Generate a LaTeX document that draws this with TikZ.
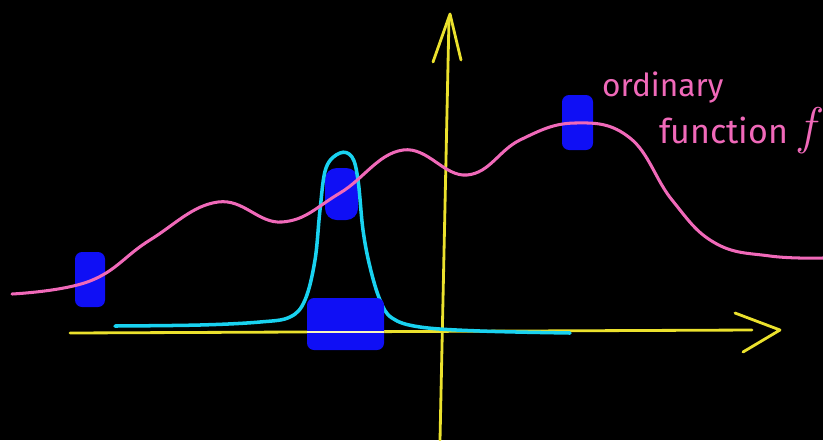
\documentclass[tikz,border=0pt]{standalone}
\usepackage{fontspec}
\newfontfamily\handfont{Fira Sans}
\usetikzlibrary{arrows.meta}
\definecolor{axisyellow}{RGB}{235,225,45}
\definecolor{fpink}{RGB}{240,105,185}
\definecolor{bumpcyan}{RGB}{25,210,240}
\definecolor{patchblue}{RGB}{15,15,245}
\tikzset{
  axisline/.style={draw=axisyellow, line width=2.4pt, line cap=round, line join=round},
  fcurve/.style={draw=fpink, line width=2.6pt, line cap=round},
  bumpcurve/.style={draw=bumpcyan, line width=3pt, line cap=round},
  patch/.style={fill=patchblue, rounded corners=6},
  labeltext/.style={text=fpink, font=\handfont\fontsize{27}{27}\selectfont, inner sep=0pt}
}
\begin{document}
\begin{tikzpicture}[x=0.03cm, y=-0.03cm]

      % Fundo
      \fill[black] (0,0) rectangle (823,440);
      \useasboundingbox (0,0) rectangle (823,440);

      % Eixos
      \draw[axisline] (70,333) -- (752,330);
      \draw[axisline] (735,313) -- (780,330) -- (743,352);
      \draw[axisline] (440,440) -- (449,18);
      \draw[axisline] (433,62) -- (450,14) -- (461,60);

      % Manchas azuis (atras das curvas)
      \fill[patch] (75,252) rectangle (105,307);
      \fill[patch] (562,95) rectangle (593,150);
      \fill[patch, rounded corners=10] (325,168) rectangle (358,220);

      % Pico estreito
      \draw[bumpcurve] plot[smooth, tension=0.6] coordinates {
        (115,326) (200,325) (260,322) (290,317) (305,300) (315,260)
        (320,210) (326,168) (340,153) (352,157) (358,180) (363,230)
        (370,267) (380,300) (392,318) (420,327) (480,331) (570,333)};

      % Mancha azul sobre o eixo
      \fill[patch] (307,298) rectangle (384,350);
      \draw[draw=white!70!axisyellow, line width=1.6pt] (307,332) -- (384,332);

      % Funcao ordinaria f
      \draw[fcurve] plot[smooth, tension=0.7] coordinates {
        (12,294) (90,281) (150,240) (218,202) (282,222) (340,193)
        (403,150) (467,175) (520,140) (575,123) (630,138) (672,200)
        (715,243) (770,256) (823,258)};

      % Legenda
      \node[labeltext, anchor=base west] (ordinary) at (602,96) {ordinary};
      \node[labeltext, anchor=base west, font=\handfont\fontsize{29}{29}\selectfont]
        (function) at (659,143) {function\hspace{10pt}{\rmfamily\itshape\fontsize{44}{44}\selectfont f}};

\end{tikzpicture}
\end{document}
